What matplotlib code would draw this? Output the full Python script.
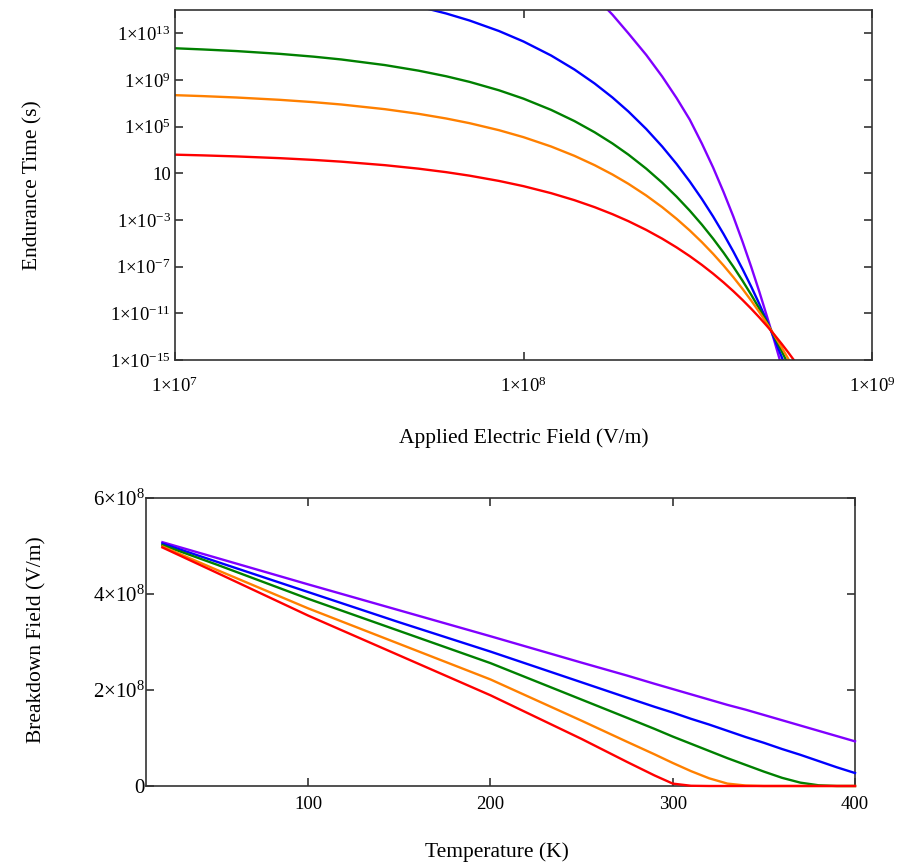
import matplotlib
matplotlib.use('Agg')
import matplotlib.pyplot as plt

# Fonts: Mathcad style serif text
plt.rcParams['font.family'] = ['Liberation Serif', 'DejaVu Serif']
plt.rcParams['mathtext.fontset'] = 'custom'
plt.rcParams['mathtext.rm'] = 'Liberation Serif'
plt.rcParams['mathtext.it'] = 'Liberation Serif:italic'

# ---- Top chart: endurance time vs applied field (log10 of seconds) ----
field = [1e7, 1.2e7, 1.5e7, 2e7, 2.5e7, 3e7, 4e7, 5e7, 6e7, 7e7, 8.5e7,
         1e8, 1.2e8, 1.4e8, 1.6e8, 1.8e8, 2e8, 2.25e8, 2.5e8, 2.75e8,
         3e8, 3.25e8, 3.5e8, 3.75e8, 4e8, 4.25e8, 4.5e8, 4.75e8, 5e8,
         5.25e8, 5.5e8, 5.75e8, 6e8, 6.5e8]
log_tau_red = [2.6, 2.54, 2.45, 2.3, 2.15, 2.0, 1.7, 1.4, 1.1, 0.8, 0.35,
               -0.1, -0.7, -1.3, -1.9, -2.5, -3.1, -3.85, -4.6, -5.35,
               -6.1, -6.85, -7.6, -8.35, -9.1, -9.85, -10.6, -11.35, -12.1,
               -12.85, -13.6, -14.35, -15.1, -16.6]
log_tau_orange = [7.7, 7.62, 7.5, 7.3, 7.1, 6.9, 6.5, 6.1, 5.7, 5.3, 4.7,
                  4.1, 3.3, 2.5, 1.7, 0.9, 0.1, -0.9, -1.9, -2.9,
                  -3.9, -4.9, -5.9, -6.9, -7.9, -8.9, -9.9, -10.9, -11.9,
                  -12.9, -13.9, -14.9, -15.9, -17.9]
log_tau_green = [11.72, 11.62, 11.48, 11.24, 11.0, 10.76, 10.28, 9.8, 9.32, 8.84, 8.12,
                 7.4, 6.44, 5.48, 4.52, 3.56, 2.6, 1.4, 0.2, -1.0,
                 -2.2, -3.4, -4.6, -5.8, -7.0, -8.2, -9.4, -10.6, -11.8,
                 -13.0, -14.2, -15.4, -16.6, -19.0]
log_tau_blue = [17.7, 17.58, 17.4, 17.1, 16.8, 16.5, 15.9, 15.3, 14.7, 14.1, 13.2,
                12.3, 11.1, 9.9, 8.7, 7.5, 6.3, 4.8, 3.3, 1.8,
                0.3, -1.2, -2.7, -4.2, -5.7, -7.2, -8.7, -10.2, -11.7,
                -13.2, -14.7, -16.2, -17.7, -20.7]
field_purple = [1.4e8, 1.6e8, 1.8e8, 2e8, 2.25e8, 2.5e8, 2.75e8, 3e8, 3.25e8,
                3.5e8, 3.75e8, 4e8, 4.25e8, 4.5e8, 4.75e8, 5e8, 5.25e8,
                5.5e8, 5.75e8, 6e8]
log_tau_purple = [17.8, 16.2, 14.6, 13.0, 11.15, 9.3, 7.45, 5.6, 3.55,
                  1.5, -0.6, -2.7, -4.85, -7.0, -9.15, -11.3, -13.4,
                  -15.5, -17.6, -19.7]

top_yticks = [1e-15, 1e-11, 1e-7, 1e-3, 10, 1e5, 1e9, 1e13]
top_ylabels = ['1×10$^{-15}$', '1×10$^{-11}$', '1×10$^{-7}$', '1×10$^{-3}$',
               '10', '1×10$^{5}$', '1×10$^{9}$', '1×10$^{13}$']
top_xticks = [1e7, 1e8, 1e9]
top_xlabels = ['1×10$^{7}$', '1×10$^{8}$', '1×10$^{9}$']

# ---- Bottom chart: breakdown field vs temperature (units of 1e8 V/m) ----
temps = [20, 50, 100, 150, 200, 250, 275, 290, 300, 310, 320, 330, 340,
         350, 360, 370, 380, 390, 400]
bd_purple = [5.08, 4.75, 4.20, 3.66, 3.12, 2.57, 2.30, 2.13, 2.02, 1.91,
             1.80, 1.69, 1.59, 1.48, 1.37, 1.26, 1.15, 1.04, 0.93]
bd_blue = [5.05, 4.67, 4.04, 3.41, 2.80, 2.16, 1.84, 1.65, 1.53, 1.40,
           1.28, 1.15, 1.02, 0.90, 0.77, 0.65, 0.52, 0.39, 0.27]
bd_green = [5.02, 4.61, 3.90, 3.23, 2.56, 1.80, 1.42, 1.19, 1.03, 0.88,
            0.73, 0.58, 0.44, 0.30, 0.17, 0.07, 0.015, 0.0, 0.0]
bd_orange = [4.99, 4.50, 3.70, 2.96, 2.22, 1.36, 0.92, 0.66, 0.48, 0.31,
             0.16, 0.05, 0.01, 0.0, 0.0, 0.0, 0.0, 0.0, 0.0]
bd_red = [4.97, 4.44, 3.55, 2.72, 1.89, 0.98, 0.50, 0.22, 0.05, 0.005,
          0.0, 0.0, 0.0, 0.0, 0.0, 0.0, 0.0, 0.0, 0.0]

bot_yticks = [0, 2e8, 4e8, 6e8]
bot_ylabels = ['0', '2×10$^{8}$', '4×10$^{8}$', '6×10$^{8}$']
bot_xticks = [100, 200, 300, 400]
bot_xlabels = ['100', '200', '300', '400']

colors = {'purple': '#8000FF', 'blue': '#0000FF', 'green': '#008000',
          'orange': '#FF8000', 'red': '#FF0000'}
LW = 1.7
SPINE = '#333333'


def style_axes(ax):
    '''Mathcad like frame: inward ticks on every side.'''
    for sp in ax.spines.values():
        sp.set_color(SPINE)
        sp.set_linewidth(1.2)
    ax.tick_params(which='both', direction='in', top=True, right=True,
                   length=6, width=1.2, color=SPINE, labelsize=13.5)
    ax.minorticks_off()


fig = plt.figure(figsize=(9.01, 8.65), dpi=100)

# Top chart
ax1 = fig.add_axes([175 / 901, 1 - 360 / 865, 697 / 901, 350 / 865])
ax1.plot(field_purple, [10 ** v for v in log_tau_purple], color=colors['purple'], lw=LW)
ax1.plot(field, [10 ** v for v in log_tau_blue], color=colors['blue'], lw=LW)
ax1.plot(field, [10 ** v for v in log_tau_green], color=colors['green'], lw=LW)
ax1.plot(field, [10 ** v for v in log_tau_orange], color=colors['orange'], lw=LW)
ax1.plot(field, [10 ** v for v in log_tau_red], color=colors['red'], lw=LW)
ax1.set_xscale('log')
ax1.set_yscale('log')
ax1.set_xlim(1e7, 1e9)
ax1.set_ylim(1e-15, 1e15)
style_axes(ax1)
ax1.set_xticks(top_xticks)
ax1.set_xticklabels(top_xlabels)
ax1.set_yticks(top_yticks)
ax1.set_yticklabels(top_ylabels)
ax1.minorticks_off()
ax1.tick_params(axis='x', pad=12)
ax1.tick_params(axis='y', pad=3)
ax1.set_xlabel('Applied Electric Field (V/m)', fontsize=15.5)
ax1.set_ylabel('Endurance Time (s)', fontsize=15.5)
ax1.xaxis.label.set_va('center')
ax1.yaxis.label.set_va('center')
ax1.xaxis.set_label_coords(0.5, -0.223)
ax1.yaxis.set_label_coords(-0.204, 0.5)

# Bottom chart
ax2 = fig.add_axes([146 / 901, 1 - 786 / 865, 709 / 901, 288 / 865])
for name, vals in [('purple', bd_purple), ('blue', bd_blue), ('green', bd_green),
                   ('orange', bd_orange), ('red', bd_red)]:
    ax2.plot(temps, [v * 1e8 for v in vals], color=colors[name], lw=LW,
             clip_on=False, zorder=3)
ax2.set_xlim(11, 400)
ax2.set_ylim(0, 6e8)
style_axes(ax2)
ax2.set_xticks(bot_xticks)
ax2.set_xticklabels(bot_xlabels)
ax2.set_yticks(bot_yticks)
ax2.set_yticklabels(bot_ylabels)
ax2.tick_params(axis='x', pad=7)
ax2.tick_params(axis='y', pad=1, labelsize=15)
ax2.set_xlabel('Temperature (K)', fontsize=15.5)
ax2.set_ylabel('Breakdown Field (V/m)', fontsize=15.5)
ax2.xaxis.label.set_va('center')
ax2.yaxis.label.set_va('center')
ax2.xaxis.set_label_coords(0.495, -0.229)
ax2.yaxis.set_label_coords(-0.154, 0.507)

fig.savefig('out.png', dpi=100)
